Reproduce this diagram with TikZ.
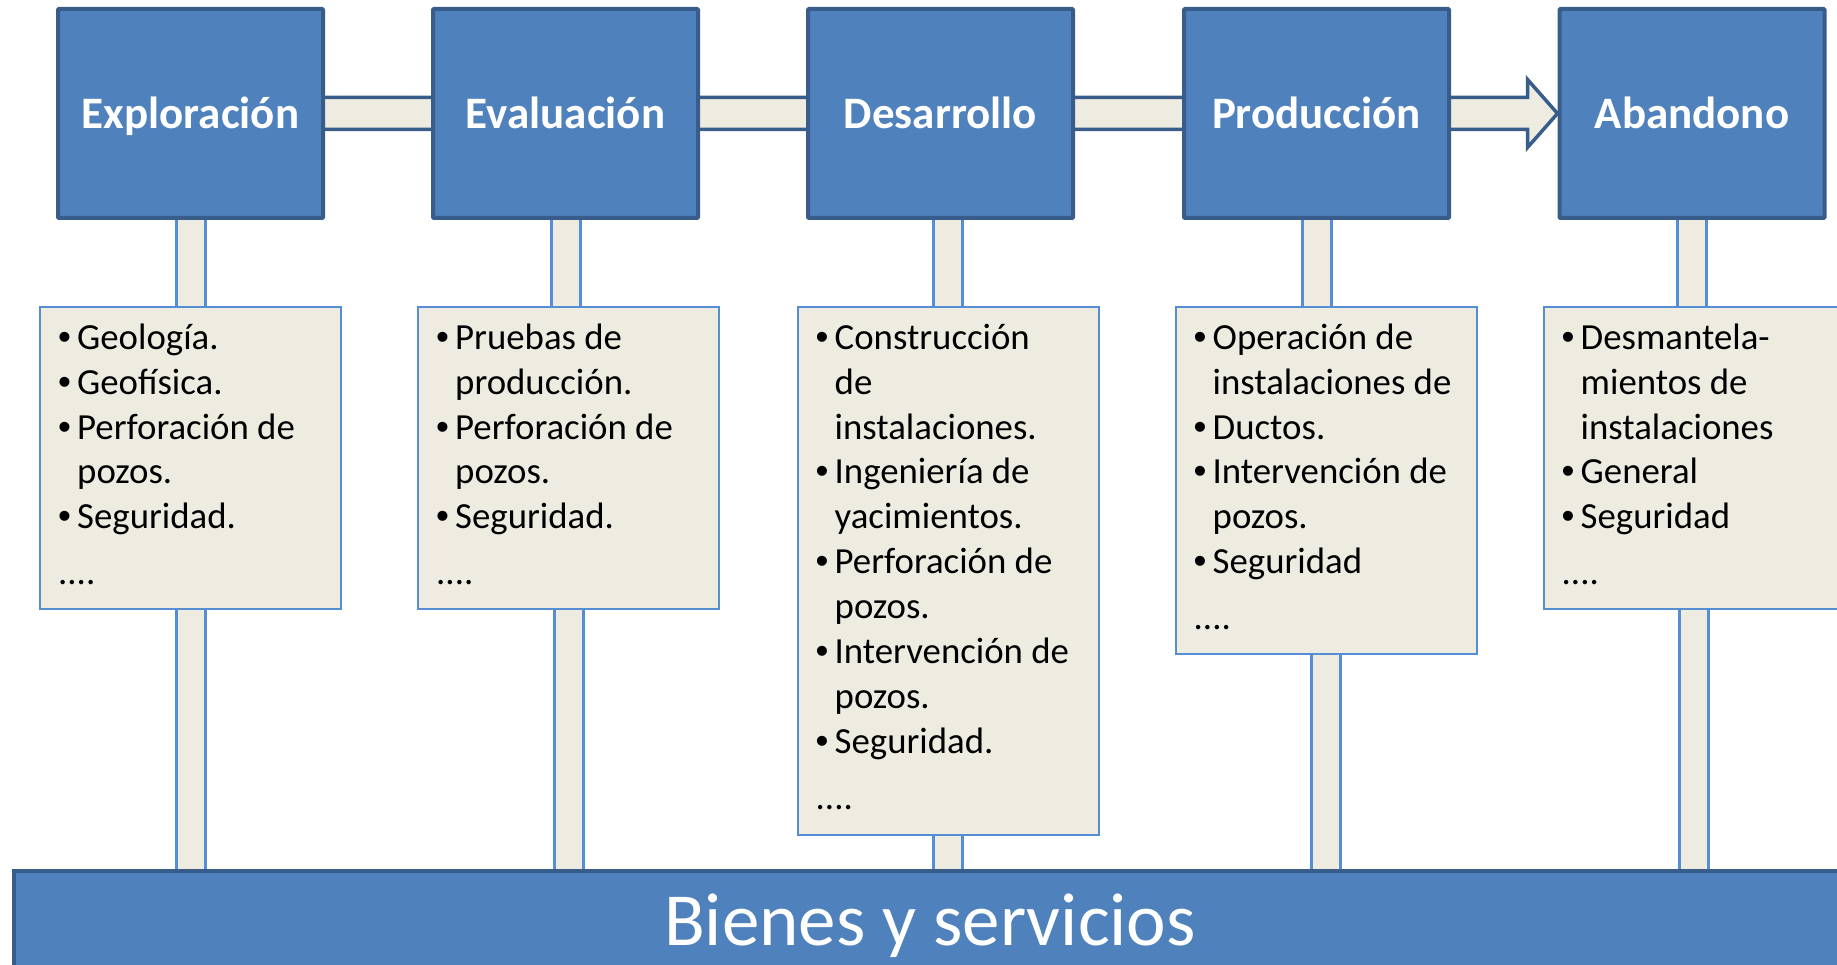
\documentclass[tikz,border=0pt]{standalone}
\usepackage{fontspec}
\setmainfont{Carlito}
\newfontfamily\bulletfont{Liberation Sans}
\usetikzlibrary{calc,backgrounds}

\definecolor{fasefill}{HTML}{4F81BD}
\definecolor{faseborde}{HTML}{385D8A}
\definecolor{papel}{HTML}{EEECE1}
\definecolor{bordeclaro}{HTML}{558ED5}

\newcommand{\itm}{\makebox[19pt][l]{\bulletfont\char"2022}}
\newcommand{\sgr}{\hspace*{19pt}}

\begin{document}
\begin{tikzpicture}[x=1pt,y=-1pt,
    fase/.style={draw=faseborde,fill=fasefill,line width=4pt,rounded corners=1pt,
      minimum width=265pt,minimum height=209pt,text=white,
      font=\fontsize{45}{54}\selectfont\bfseries,text height=34pt,text depth=4pt},
    detalle/.style={draw=bordeclaro,fill=papel,line width=2pt,minimum width=301pt,anchor=north},
    lista/.style={anchor=north west,inner sep=0pt,align=left,font=\fontsize{36.8}{44.9}\selectfont},
    poste/.style={draw=bordeclaro,line width=3pt,double=papel,double distance=26pt},
    flujo/.style={draw=faseborde,fill=papel,line width=3.5pt,line join=miter},
    base/.style={draw=faseborde,fill=fasefill,line width=4pt,anchor=north west,
      minimum width=1832pt,minimum height=98pt,text=white,
      font=\fontsize{75}{90}\selectfont,text height=57pt,text depth=6pt}]
    \useasboundingbox (0,0) rectangle (1837,965);
    \clip (0,0) rectangle (1837,965);

    \node[fase] (expl) at (190.5,113.5) {Exploración};
    \node[fase] (eval) at (565.5,113.5) {Evaluación};
    \node[fase] (desa) at (940.5,113.5) {Desarrollo};
    \node[fase] (prod) at (1316.5,113.5) {Producción};
    \node[fase] (aban) at (1692,113.5) {Abandono};

    \node[detalle,minimum height=302pt] (det1) at (190.5,306) {};
    \node[detalle,minimum height=302pt] (det2) at (568.5,306) {};
    \node[detalle,minimum height=528pt] (det3) at (948,306) {};
    \node[detalle,minimum height=347pt] (det4) at (1326,306) {};
    \node[detalle,minimum height=302pt] (det5) at (1694,306) {};

    \node[lista] (lis1) at ($(det1.north west)+(19,11.6)$) {\strut\itm Geología.\\ \itm Geofísica.\\ \itm Perforación de\\ \sgr pozos.\\ \itm Seguridad.\\[11pt] ....};
    \node[lista] (lis2) at ($(det2.north west)+(19,11.6)$) {\strut\itm Pruebas de\\ \sgr producción.\\ \itm Perforación de\\ \sgr pozos.\\ \itm Seguridad.\\[11pt] ....};
    \node[lista] (lis3) at ($(det3.north west)+(19,11.6)$) {\strut\itm Construcción\\ \sgr de\\ \sgr instalaciones.\\ \itm Ingeniería de\\ \sgr yacimientos.\\ \itm Perforación de\\ \sgr pozos.\\ \itm Intervención de\\ \sgr pozos.\\ \itm Seguridad.\\[11pt] ....};
    \node[lista] (lis4) at ($(det4.north west)+(19,11.6)$) {\strut\itm Operación de\\ \sgr instalaciones de\\ \itm Ductos.\\ \itm Intervención de\\ \sgr pozos.\\ \itm Seguridad\\[11pt] ....};
    \node[lista] (lis5) at ($(det5.north west)+(19,11.6)$) {\strut\itm Desmantela-\\ \sgr mientos de\\ \sgr instalaciones\\ \itm General\\ \itm Seguridad\\[11pt] ....};

    \node[base] (bienes) at (12,869) {Bienes y servicios};

    \begin{scope}[on background layer]
    \draw[flujo] ($(expl.center)+(0,-16)$) -- ($(aban.west)+(-30,-16)$) -- ($(aban.west)+(-30,-34)$)
      -- (aban.west) -- ($(aban.west)+(-30,34)$) -- ($(aban.west)+(-30,16)$) -- ($(expl.center)+(0,16)$) -- cycle;

    \draw[poste] (expl.south) -- (expl.south |- det1.north);
    \draw[poste] (eval.south) -- (eval.south |- det2.north);
    \draw[poste] (det3.north |- desa.south) -- (det3.north);
    \draw[poste] (prod.south) -- (prod.south |- det4.north);
    \draw[poste] (aban.south) -- (aban.south |- det5.north);

    \draw[poste] (det1.south) -- (det1.south |- bienes.north);
    \draw[poste] (det2.south) -- (det2.south |- bienes.north);
    \draw[poste] (det3.south) -- (det3.south |- bienes.north);
    \draw[poste] (det4.south) -- (det4.south |- bienes.north);
    \draw[poste] (det5.south) -- (det5.south |- bienes.north);
    \end{scope}
\end{tikzpicture}
\end{document}
